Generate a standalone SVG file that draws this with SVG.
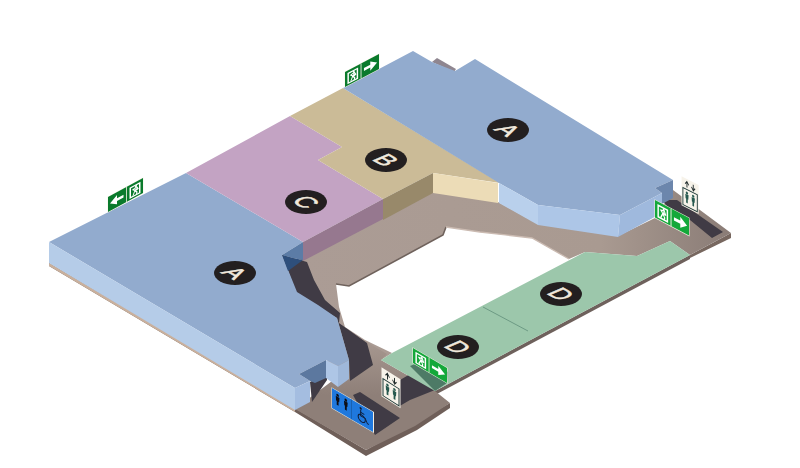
<svg xmlns="http://www.w3.org/2000/svg" width="800" height="468" viewBox="0 0 800 468">
<defs>
<linearGradient id="upper" gradientUnits="userSpaceOnUse" x1="300" y1="0" x2="730" y2="0"><stop offset="0" stop-color="#ab9c95"/><stop offset=".7" stop-color="#a99a91"/><stop offset="1" stop-color="#8a7c76"/></linearGradient>
<linearGradient id="lower" gradientUnits="userSpaceOnUse" x1="0" y1="335" x2="0" y2="395"><stop offset="0" stop-color="#a99a92"/><stop offset="1" stop-color="#8e7f78"/></linearGradient>
<filter id="soft" x="-10%" y="-10%" width="120%" height="120%"><feGaussianBlur stdDeviation=".7"/></filter>
<g id="man"><circle cx="0" cy="-6" r="2.6"/><path d="M-3.6 -3H3.6L3 6H1.8V14H-1.8V6H-3Z"/></g>
<g id="runner"><rect x="5" y="5" width="22" height="24" fill="#fff"/><rect x="8" y="8" width="16" height="18" fill="currentColor"/><path d="M12 26L16 17L12 13L19 11L22 17L20 18L18 15L17 19L20 23L19 27" fill="none" stroke="#fff" stroke-width="2.4"/><circle cx="18" cy="9" r="2" fill="#fff"/></g>
<g id="exitR"><rect x="-1" y="-1" width="72" height="34" fill="#f7f3e8"/><rect width="70" height="32" fill="currentColor"/><path d="M33 0V32" stroke="#f7f3e8" stroke-width="1.6"/><use href="#runner"/><path d="M39 13H52V6L66 16L52 26V19H39Z" fill="#fff"/></g>
<g id="exitL"><rect x="-1" y="-1" width="72" height="34" fill="#f7f3e8"/><rect width="70" height="32" fill="currentColor"/><path d="M37 0V32" stroke="#f7f3e8" stroke-width="1.6"/><use href="#runner" transform="translate(38 0)"/><path d="M31 13H18V6L4 16L18 26V19H31Z" fill="#fff"/></g>
<g id="lift"><rect x="-1" y="-1" width="38" height="58" fill="#f7f3ea"/><path d="M11 16V6M7 10L11 4L15 10M25 4V14M21 10L25 16L29 10" fill="none" stroke="#1f2a2a" stroke-width="2"/><rect x="2" y="20" width="32" height="34" fill="#f7f3ea" stroke="#1f3a38" stroke-width="2"/><use href="#man" x="11" y="33" fill="#27594f"/><use href="#man" x="25" y="33" fill="#27594f"/></g>
<g id="wc"><rect x="-1" y="-1" width="83" height="42" fill="#f2eee2"/><rect width="80" height="40" fill="#1f78dd"/><path d="M38 0V40" stroke="#16508f" stroke-width="1"/><use href="#man" x="11" y="14" fill="#0d0d14"/><use href="#man" x="27" y="14" fill="#0d0d14"/><g fill="none" stroke="#0d1c38" stroke-width="2"><circle cx="58" cy="26" r="7"/><path d="M56 10V22H65L69 30H72"/><path d="M56 15H63"/></g><circle cx="56" cy="7" r="2.2" fill="#0d1c38"/></g>
</defs>
<style>
.lab{fill:#231f20}
.let{font-family:"Liberation Sans",Arial,sans-serif;font-size:23px;fill:#f0e8dc;stroke:#f0e8dc;stroke-width:.6;text-anchor:middle}
.shadow{fill:#3f3b44;filter:url(#soft)}
</style>
<rect width="800" height="468" fill="#fff"/>
<g id="floor">
<path fill="#6f5f59" d="M49 263V266L295 412L366 456L417 430L450 408V403L366 450Z"/>
<path fill="#c9b09d" d="M49 263V266L295 412V408Z"/>
<path fill="#77675f" d="M690 255V258L731 238V233Z"/>
<path fill="#6e615c" d="M435 391V395L690 259V255Z"/>
<path fill="#8f8690" d="M432 62L437 58L456 69L454 72Z"/>
<path fill="url(#upper)" d="M300 258L383 218L433 192L498 202L538 224L618 236L655 218L673 190L731 233L690 255L670 241L637 256L585 252L569 259L532 238L480 232L446 227L443 235L349 286L336 284L339 307L345 327L365 340L392 353L381 360L330 370Z"/>
<path fill="url(#lower)" d="M295 409L340 375L346 330L387 354L381 360L435 391L450 403L415 426L366 450Z"/>
<path fill="none" stroke="#6f625c" stroke-width="1.6" d="M336 284L349 286L443 235L446 227"/>
<path fill="none" stroke="#cbbbb2" stroke-width="1.3" d="M446 227L480 232L532 238L569 259"/>
<path class="shadow" d="M282 255L307 262L314 280L325 300L340 313L339 323L346 328L367 343L373 365L350 381L349 360L337 318L297 295Z"/>
<path class="shadow" d="M310 382L327 373V380L312 402Z"/>
<path class="shadow" d="M353 395L360 392L400 418L375 435Z"/>
<path class="shadow" d="M398 407L400 380L412 373L435 390L410 400Z"/>
<path class="shadow" d="M662 200L677 200L723 232L712 238L690 220L667 206Z"/>
</g>
<g id="zone-d">
<path fill="#9cc7ab" d="M392 353L381 360L435 391L690 255L670 241L637 256L585 252Z"/>
<path fill="#4e7a66" filter="url(#soft)" d="M410 366L430 358L448 372L447 383L435 391Z"/>
<path fill="none" stroke="#6d9a84" stroke-width="1" d="M483 307L528 331"/>
</g>
<g id="zone-a-left">
<path fill="#92abce" d="M49 242L186 173L303 242L282 255L297 292L318 305L337 318L349 360L338 366L326 360L299 374L310 381L295 388Z"/>
<path fill="#b5cce8" d="M49 242L295 388V410L49 263Z"/>
<path fill="#a4bde0" d="M295 388L310 381V402L295 410Z"/>
<path fill="#5c789f" d="M299 374L326 360V378L315 383L310 381Z"/>
<path fill="#aec6e6" d="M326 360L338 366V387L326 378Z"/>
<path fill="#9fb8da" d="M338 366L349 360V379L338 387Z"/>
<path fill="#5c7ca6" d="M282 255L303 242V260L292 258Z"/>
<path fill="#2e4f7c" d="M282 255L292 258L303 260L288 271Z"/>
</g>
<g id="zone-c">
<path fill="#c3a3c3" d="M186 173L290 116L342 147L318 160L383 199L303 242Z"/>
<path fill="#96788f" d="M303 242L383 199V219L303 261Z"/>
</g>
<g id="zone-b">
<path fill="#cbbb97" d="M290 116L343 88L500 183L433 173L383 199L318 160L342 147Z"/>
<path fill="#98896a" d="M383 199L433 173V193L383 220Z"/>
<path fill="#ecdcb7" d="M433 173L498 183V203L433 193Z"/>
</g>
<g id="zone-a-right">
<path fill="#92abce" d="M343 88L413 51L432 62L455 71L475 59L673 180L655 188L662 193L620 215L538 205L499 183Z"/>
<path fill="#b9d0ec" d="M499 183L538 205V225L499 203Z"/>
<path fill="#adc6e7" d="M538 205L620 215L618 237L538 225Z"/>
<path fill="#9fb9dd" d="M620 215L662 193V213L618 237Z"/>
<path fill="#6c86ac" d="M655 188L673 180V198L662 204V193Z"/>
</g>
<g id="label-a1"><ellipse class="lab" cx="235" cy="273" rx="21" ry="12"/><text class="let" transform="matrix(.9 .5 -1 .42 235 273)" y="8">A</text></g>
<g id="label-a2"><ellipse class="lab" cx="508" cy="130" rx="21" ry="12"/><text class="let" transform="matrix(.9 .5 -1 .42 508 130)" y="8">A</text></g>
<g id="label-b"><ellipse class="lab" cx="386" cy="160" rx="21" ry="12"/><text class="let" transform="matrix(.9 .5 -1 .42 386 160)" y="8">B</text></g>
<g id="label-c"><ellipse class="lab" cx="306" cy="202" rx="21" ry="12"/><text class="let" transform="matrix(.9 .5 -1 .42 306 202)" y="8">C</text></g>
<g id="label-d1"><ellipse class="lab" cx="561" cy="294" rx="21" ry="12"/><text class="let" transform="matrix(.9 .5 -1 .42 561 294)" y="8">D</text></g>
<g id="label-d2"><ellipse class="lab" cx="458" cy="347" rx="21" ry="12"/><text class="let" transform="matrix(.9 .5 -1 .42 458 347)" y="8">D</text></g>
<g id="sign-exit-left"><use href="#exitL" color="#0a7a2c" transform="matrix(.5 -.271 0 .47 108 197)"/></g>
<g id="sign-exit-top"><use href="#exitR" color="#0a7a2c" transform="matrix(.486 -.257 0 .47 345 72)"/></g>
<g id="sign-lift-right"><use href="#lift" transform="matrix(.45 .23 0 .5 682 177)"/></g>
<g id="sign-exit-right"><use href="#exitR" color="#14a83a" transform="matrix(.486 .257 0 .55 655 200)"/></g>
<g id="sign-lift-front"><use href="#lift" transform="matrix(.5 .32 0 .5 382 368)"/></g>
<g id="sign-exit-d"><use href="#exitR" color="#14a83a" transform="matrix(.486 .286 0 .47 413 348)"/></g>
<g id="sign-wc"><use href="#wc" transform="matrix(.5125 .3 0 .5 332 388)"/></g>
</svg>
